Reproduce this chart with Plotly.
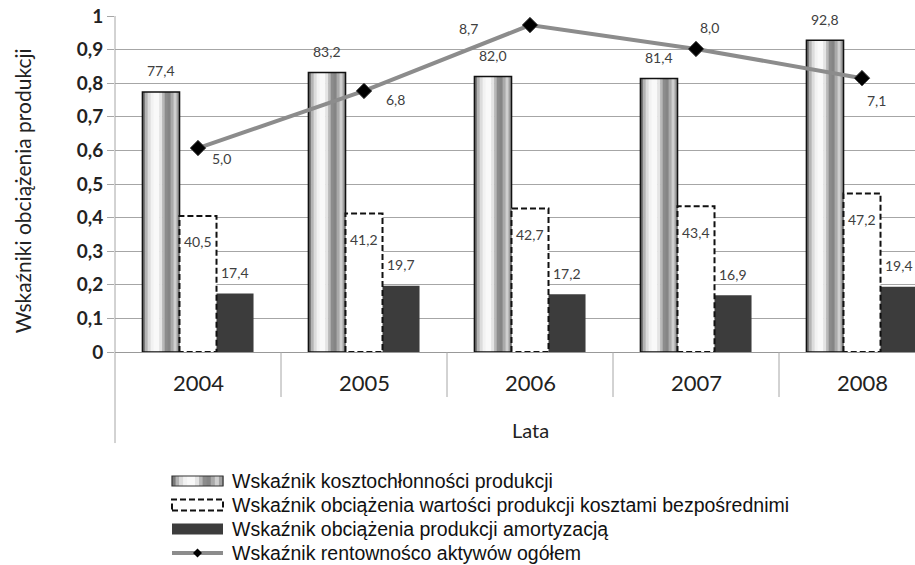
import plotly.graph_objects as go

# ---------------- data ----------------
years = ["2004", "2005", "2006", "2007", "2008"]
kosztochlonnosc = [77.4, 83.2, 82.0, 81.4, 92.8]          # bar labels (%)
obciazenie_bezposrednie = [40.5, 41.2, 42.7, 43.4, 47.2]  # bar labels (%)
obciazenie_amortyzacja = [17.4, 19.7, 17.2, 16.9, 19.4]   # bar labels (%)
rentownosc_labels = [5.0, 6.8, 8.7, 8.0, 7.1]             # line labels
rentownosc_pos = [0.607, 0.777, 0.973, 0.902, 0.815]      # line point heights
y_ticks = [0, 0.1, 0.2, 0.3, 0.4, 0.5, 0.6, 0.7, 0.8, 0.9, 1.0]
y_tick_text = ["0", "0,1", "0,2", "0,3", "0,4", "0,5", "0,6", "0,7", "0,8", "0,9", "1"]
legend_names = [
    "Wskaźnik kosztochłonności produkcji",
    "Wskaźnik obciążenia wartości produkcji kosztami bezpośrednimi",
    "Wskaźnik obciążenia produkcji amortyzacją",
    "Wskaźnik rentownośco aktywów ogółem",
]

# ---------------- style ----------------
LABEL_FONT = "Lato"
LEG_FONT = "Liberation Sans"
DARK = "#3c3c3c"
GRID = "#a6a6a6"
bw = 0.223                     # single bar width (category units)
offs = [-0.3345, -0.1115, 0.1115]
strip_edges = [0, 0.07, 0.14, 0.22, 0.30, 0.45, 0.53, 0.60, 0.68, 0.76, 0.84, 0.92, 1.0]
strip_cols = ['#7a7a7a', '#b4b4b4', '#dcdcdc', '#f2f2f2', '#f9f9f9', '#e4e4e4',
              '#b8b8b8', '#8c8c8c', '#858585', '#aaaaaa', '#cfcfcf', '#a0a0a0']

xs = list(range(len(years)))
s1 = [v / 100 for v in kosztochlonnosc]
s2 = [v / 100 for v in obciazenie_bezposrednie]
s3 = [v / 100 for v in obciazenie_amortyzacja]

def fmt(v):
    return f"{v:.1f}".replace(".", ",")

fig = go.Figure()

# cylinder-shaded bars (series 1)
for k, col in enumerate(strip_cols):
    e0, e1 = strip_edges[k], strip_edges[k + 1]
    fig.add_trace(go.Bar(x=xs, y=s1, width=bw * (e1 - e0) + 0.003,
                         offset=offs[0] + bw * e0, marker=dict(color=col, line=dict(width=0)),
                         showlegend=False, hoverinfo="skip"))
fig.add_trace(go.Bar(x=xs, y=s1, width=bw, offset=offs[0], name=legend_names[0],
                     marker=dict(color="rgba(0,0,0,0)", line=dict(color="#111111", width=1.6)),
                     showlegend=False))

# series 2: white bars with dashed outline
fig.add_trace(go.Bar(x=xs, y=s2, width=bw, offset=offs[1], name=legend_names[1],
                     marker=dict(color="white", line=dict(width=0)), showlegend=False))
ox, oy = [], []
for x, v in zip(xs, s2):
    x0, x1 = x + offs[1], x + offs[1] + bw
    ox += [x0, x0, x1, x1, x0, None]
    oy += [0, v, v, 0, 0, None]
fig.add_trace(go.Scatter(x=ox, y=oy, mode="lines", line=dict(color="#111111", width=2, dash="6px,3px"),
                         showlegend=False, hoverinfo="skip"))

# series 3: dark bars
fig.add_trace(go.Bar(x=xs, y=s3, width=bw, offset=offs[2], name=legend_names[2],
                     marker=dict(color=DARK, line=dict(width=0)), showlegend=False))

# line series
fig.add_trace(go.Scatter(x=xs, y=rentownosc_pos, mode="lines+markers", name=legend_names[3],
                         line=dict(color="#8c8c8c", width=4),
                         marker=dict(symbol="diamond", size=12, color="#000000",
                                     line=dict(color="#555555", width=1)),
                         showlegend=False))

annotations = []
lab_font = dict(family=LABEL_FONT, size=14, color="#404040")
for x, v, lab in zip(xs, s1, kosztochlonnosc):
    annotations.append(dict(x=x + offs[0] + bw / 2, y=v, text=fmt(lab), showarrow=False,
                            yshift=21, font=lab_font))
for x, v, lab in zip(xs, s2, obciazenie_bezposrednie):
    annotations.append(dict(x=x + offs[1] + bw / 2, y=v, text=fmt(lab), showarrow=False,
                            yshift=-26, font=lab_font))
for x, v, lab in zip(xs, s3, obciazenie_amortyzacja):
    annotations.append(dict(x=x + offs[2] + bw / 2, y=v, text=fmt(lab), showarrow=False,
                            yshift=21, font=lab_font))
line_label_shift = [(23, -10), (31, -9), (-62, -3), (13, 21), (14, -22)]
for x, v, lab, (dx, dy) in zip(xs, rentownosc_pos, rentownosc_labels, line_label_shift):
    annotations.append(dict(x=x, y=v, text=fmt(lab), showarrow=False,
                            xshift=dx, yshift=dy, font=lab_font))

# category labels
for x, yr in zip(xs, years):
    annotations.append(dict(x=x, y=-0.092, yref="paper", yanchor="middle", text=yr,
                            showarrow=False,
                            font=dict(family=LABEL_FONT, size=22, color="#222222")))
# axis titles
annotations.append(dict(x=2, y=-0.232, yref="paper", yanchor="middle", text="Lata",
                        showarrow=False,
                        font=dict(family=LABEL_FONT, size=20, color="#222222")))
annotations.append(dict(x=-0.116, xref="paper", xanchor="center", y=0.479, yref="paper",
                        yanchor="middle",
                        text="Wskaźniki obciążenia produkcji", textangle=-90, showarrow=False,
                        font=dict(family=LABEL_FONT, size=21, color="#222222")))

shapes = []
# table lines below the plot
for b in [0.5, 1.5, 2.5, 3.5]:
    shapes.append(dict(type="line", xref="x", yref="paper", x0=b, x1=b, y0=0, y1=-0.134,
                       line=dict(color=GRID, width=1)))
shapes.append(dict(type="line", xref="paper", yref="paper", x0=0, x1=0, y0=-0.271, y1=1,
                   line=dict(color=GRID, width=1)))

# custom legend (positions in reference pixels -> paper coords)
PW, PH, PX0, PY0 = 800.0, 336.0, 115.0, 352.0
def px(xp):
    return (xp - PX0) / PW
def py(yp):
    return (PY0 - yp) / PH
rows = [481, 505, 529, 553]
sx0, sx1 = 172, 223
half = 5.5
for k, col in enumerate(strip_cols):
    e0, e1 = strip_edges[k], strip_edges[k + 1]
    shapes.append(dict(type="rect", xref="paper", yref="paper",
                       x0=px(sx0 + (sx1 - sx0) * e0), x1=px(sx0 + (sx1 - sx0) * e1 + 0.5),
                       y0=py(rows[0] + half - 0.5), y1=py(rows[0] - half + 0.5),
                       fillcolor=col, line=dict(width=0)))
shapes.append(dict(type="rect", xref="paper", yref="paper", x0=px(sx0), x1=px(sx1),
                   y0=py(rows[0] + half - 0.5), y1=py(rows[0] - half + 0.5),
                   line=dict(color="#333333", width=1.2)))
shapes.append(dict(type="rect", xref="paper", yref="paper", x0=px(sx0), x1=px(sx1),
                   y0=py(rows[1] + half), y1=py(rows[1] - half), fillcolor="white",
                   line=dict(color="#111111", width=2, dash="6px,3px")))
shapes.append(dict(type="rect", xref="paper", yref="paper", x0=px(sx0), x1=px(sx1),
                   y0=py(rows[2] + half), y1=py(rows[2] - half), fillcolor=DARK,
                   line=dict(width=0)))
shapes.append(dict(type="line", xref="paper", yref="paper", x0=px(sx0), x1=px(sx1),
                   y0=py(rows[3]), y1=py(rows[3]), line=dict(color="#8c8c8c", width=4)))
cx, cy, d = (sx0 + sx1) / 2, rows[3], 4.5
shapes.append(dict(type="path", xref="paper", yref="paper",
                   path=f"M {px(cx - d)} {py(cy)} L {px(cx)} {py(cy - d)} L {px(cx + d)} {py(cy)} L {px(cx)} {py(cy + d)} Z",
                   fillcolor="#000000", line=dict(width=0)))
for r, name in zip(rows, legend_names):
    annotations.append(dict(x=px(230), y=py(r), xref="paper", yref="paper", xanchor="left",
                            yanchor="middle", text=name, showarrow=False,
                            font=dict(family=LEG_FONT, size=19.5, color="#111111")))

fig.update_layout(
    width=915, height=565,
    margin=dict(l=115, r=0, t=16, b=213, pad=0),
    paper_bgcolor="white", plot_bgcolor="white",
    barmode="overlay",
    showlegend=False,
    xaxis=dict(range=[-0.5, -0.5 + 800 / 166], showticklabels=False, ticks="",
               showgrid=False, zeroline=False, showline=True, linecolor="#999999", linewidth=1),
    yaxis=dict(range=[0, 1], tickvals=y_ticks, ticktext=y_tick_text, showgrid=True,
               gridcolor=GRID, gridwidth=1, zeroline=False, showline=False,
               ticks="outside", ticklen=7, tickcolor=GRID,
               tickfont=dict(family=LABEL_FONT, size=19, color="#222222", weight="bold")),
    annotations=annotations,
    shapes=shapes,
)

# remove the browser's default 8px page margin so the figure fills the window exactly
fig.write_html("out.html", config={"displayModeBar": False},
               post_script="document.body.style.margin='0';document.body.style.overflow='hidden';")
